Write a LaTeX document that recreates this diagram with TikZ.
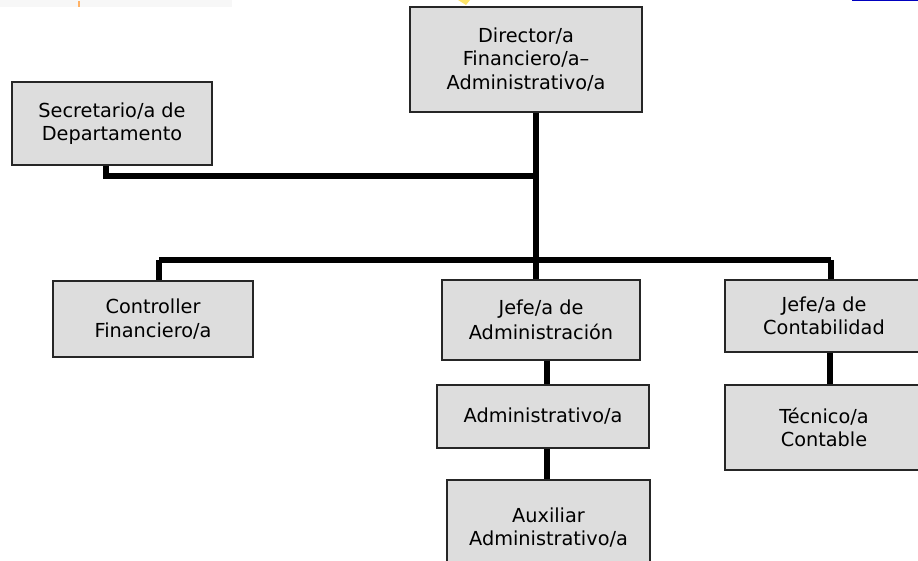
\documentclass[tikz,border=0pt]{standalone}
\usepackage{fontspec}
\setmainfont{DejaVu Sans}
\begin{document}
\begin{tikzpicture}[x=1pt,y=-1pt,
  box/.style={draw=black!85, line width=1.4pt, fill=boxgray, align=center,
    inner sep=0pt, font=\fontsize{19.3}{23.5}\selectfont},
  link/.style={line width=5.5pt, draw=black}]
\definecolor{boxgray}{RGB}{221,221,221}
\useasboundingbox (0,0) rectangle (918,561);
\begin{scope}
\clip (0,0) rectangle (918,561);

% remnants along the top edge
\fill[black!3] (0,0) rectangle (232,7);
\fill[orange!60] (77.5,1) rectangle (79.5,7);
\fill[yellow!70!orange, opacity=0.6] (458,0) -- (470,0) -- (466,5) -- cycle;
\draw[blue!75!black, line width=1.2pt] (852,0.6) -- (918,0.6);

% boxes
\node[box, minimum width=232pt, minimum height=105pt] (dir) at (526,59.5)
  {Director/a\\Financiero/a--\\Administrativo/a};
\node[box, minimum width=200pt, minimum height=83pt] (sec) at (112,123.5)
  {Secretario/a de\\Departamento};
\node[box, minimum width=200pt, minimum height=76pt] (ctrl) at (153,319)
  {Controller\\Financiero/a};
\node[box, minimum width=198pt, minimum height=80pt] (jadm) at (541,320)
  {Jefe/a de\\[2pt]Administración};
\node[box, minimum width=198pt, minimum height=72pt] (jcon) at (824,316)
  {Jefe/a de\\Contabilidad};
\node[box, minimum width=212pt, minimum height=63pt] (adm) at (543,416.5)
  {Administrativo/a};
\node[box, minimum width=198pt, minimum height=85pt] (tec) at (824,427.5)
  {Técnico/a\\Contable};
\node[box, minimum width=203pt, minimum height=95pt] (aux) at (548.5,527.5)
  {Auxiliar\\Administrativo/a};

% bus lines
\coordinate (trunk) at (536,260);
\coordinate (secjoin) at (536,176);
\coordinate (busL) at (159,260);
\coordinate (busR) at (831,260);

\draw[link] ([xshift=10pt]dir.south) -- (trunk);
\draw[link] ([xshift=-6pt]sec.south) |- (secjoin);
\draw[link] (busL) -- (busR);
\draw[link] (busL) -- (busL |- ctrl.north);
\draw[link] (trunk) -- (trunk |- jadm.north);
\draw[link] (busR) -- (busR |- jcon.north);
\draw[link] ([xshift=6pt]jadm.south) -- ([xshift=6pt]jadm.south |- adm.north);
\draw[link] ([xshift=6pt]jadm.south |- adm.south) -- ([xshift=6pt]jadm.south |- aux.north);
\draw[link] ([xshift=6pt]jcon.south) -- ([xshift=6pt]jcon.south |- tec.north);
\end{scope}
\end{tikzpicture}
\end{document}
